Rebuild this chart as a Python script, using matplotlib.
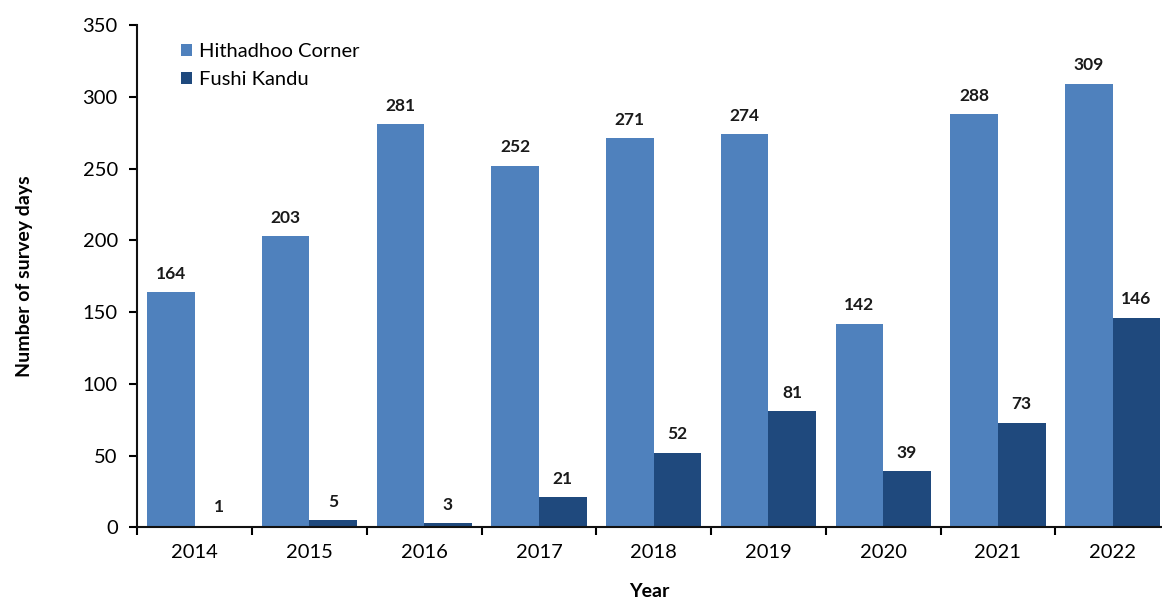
import matplotlib
matplotlib.use("Agg")
import matplotlib.pyplot as plt
import numpy as np

years = ["2014", "2015", "2016", "2017", "2018", "2019", "2020", "2021", "2022"]
hithadhoo_corner = [164, 203, 281, 252, 271, 274, 142, 288, 309]
fushi_kandu = [1, 5, 3, 21, 52, 81, 39, 73, 146]
series_names = ["Hithadhoo Corner", "Fushi Kandu"]
colors = ["#4F81BD", "#1F497D"]

plt.rcParams["font.family"] = ["Lato", "DejaVu Sans"]

fig = plt.figure(figsize=(11.62, 5.98), dpi=100)
left = 137.3 / 1162
bottom = 70.7 / 598
width = 1 - left
height = (573 - 70.7) / 598
ax = fig.add_axes([left, bottom, width, height])

x = np.arange(len(years))
bw = 0.415
b1 = ax.bar(x - bw / 2, hithadhoo_corner, bw, color=colors[0], label=series_names[0])
b2 = ax.bar(x + bw / 2, fushi_kandu, bw, color=colors[1], label=series_names[1])

for bars, vals in ((b1, hithadhoo_corner), (b2, fushi_kandu)):
    for rect, v in zip(bars, vals):
        ax.annotate(str(v), (rect.get_x() + rect.get_width() / 2, v),
                    xytext=(0, 7.5), textcoords="offset points",
                    ha="center", va="bottom", fontsize=12.5, fontweight="bold",
                    color="#1a1a1a")

cat_w = 114.75
ax.set_xlim(-0.5, (1162 - 137.3) / cat_w - 0.5)
ax.set_ylim(0, 350)
ax.set_yticks(np.arange(0, 351, 50))
ax.tick_params(axis="y", labelsize=14.5, length=6, width=1.5, direction="out", pad=8)

ax.set_xticks(x)
ax.set_xticklabels(years, fontsize=14.5)
ax.set_xticks(np.arange(-0.5, len(years) - 0.5, 1), minor=True)
ax.tick_params(axis="x", which="major", length=0, pad=12)
ax.tick_params(axis="x", which="minor", length=6, width=1.5, direction="out")

for s in ("top", "right"):
    ax.spines[s].set_visible(False)
for s in ("left", "bottom"):
    ax.spines[s].set_linewidth(1.5)
    ax.spines[s].set_color("#111111")

ax.set_ylabel("Number of survey days", fontsize=14, fontweight="bold", labelpad=36)
ax.set_xlabel("Year", fontsize=14, fontweight="bold", labelpad=16)

ax.legend(loc="upper left", bbox_to_anchor=(0.025, 1.0), frameon=False, fontsize=14.5,
          handlelength=0.55, handleheight=0.55, handletextpad=0.35, labelspacing=0.55)

fig.savefig("out.png", dpi=100)
